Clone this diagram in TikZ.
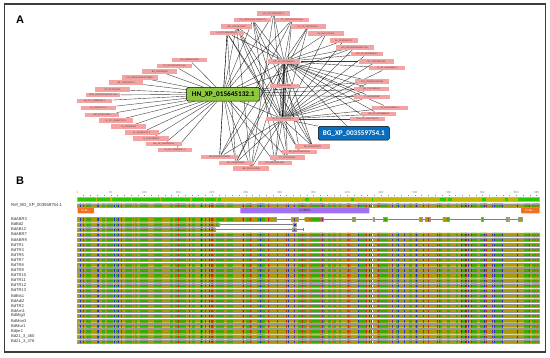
\documentclass[tikz,border=0pt]{standalone}
\usepackage{fontspec}
\setmainfont{Liberation Sans}
\newfontfamily\calibfont{Carlito}
\usetikzlibrary{backgrounds}
\definecolor{pinkc}{HTML}{F4A3A3}
\definecolor{greenn}{HTML}{8DC63F}
\definecolor{bluen}{HTML}{0A6EC0}
\definecolor{colive}{HTML}{AA9C00}
\definecolor{cgreen}{HTML}{3AAA00}
\definecolor{cred}{HTML}{C82800}
\definecolor{cblue}{HTML}{2230C0}
\definecolor{cpurp}{HTML}{6A2C8E}
\definecolor{corange}{HTML}{C87008}
\definecolor{consg}{HTML}{2FC400}
\definecolor{consy}{HTML}{C2B800}
\definecolor{annor}{HTML}{F07020}
\definecolor{annpu}{HTML}{A070F0}
\definecolor{framec}{HTML}{3C3C3C}
\newcommand\pkn[5]{\node[pk,minimum width=#4pt] (#1) at (#2,#3) {#5};}
\begin{document}
\begin{tikzpicture}[x=1pt,y=-1pt,
  pk/.style={fill=pinkc, inner sep=0pt, minimum height=4.5pt, font=\fontsize{2.2}{2.5}\selectfont, text=black!75},
  edge/.style={draw=black, line width=0.38pt, opacity=0.78},
  bignode/.style={draw=black, line width=0.5pt, rounded corners=1.5pt, minimum height=13.7pt, inner sep=0pt, font=\calibfont\bfseries\fontsize{7.2}{8}\selectfont},
  rowlab/.style={anchor=west, inner sep=0pt, font=\fontsize{4.1}{4.5}\selectfont, text=black!80},
  rul/.style={inner sep=0pt, font=\fontsize{2.8}{3}\selectfont, text=black!55},
  ann/.style={rounded corners=0.8pt, inner sep=0pt, minimum height=5.6pt, font=\fontsize{3.2}{3.5}\selectfont},
  rowb/.style={draw=black!40, line width=0.25pt},
  plab/.style={inner sep=0pt, font=\bfseries\fontsize{11}{11}\selectfont}]
\useasboundingbox (0,0) rectangle (550,357);
\begin{pgfonlayer}{background}
\fill[white] (0,0) rectangle (550,357);
\end{pgfonlayer}
\draw[framec, line width=1.6pt] (4.3,3.8) rectangle (545.5,351.8);
\node[plab] (lA) at (20,20) {A};
\node[plab] (lB) at (20,181) {B};

% ---------- panel A nodes ----------
\pkn{p1}{273.6}{13.5}{33}{HH\_XP\_020207867.1}
\pkn{p2}{252.8}{20}{37}{PG\_HORVU2Hr1G056770}
\pkn{p3}{291.9}{20}{33.7}{PT\_OS01G12078.Tpw}
\pkn{p4}{236.5}{26.5}{31}{OSI\_OS01G72900}
\pkn{p5}{308}{26.5}{35}{HJ\_XP\_020760265.1}
\pkn{p6}{227.1}{33}{34.7}{LH\_XP\_012699001.1}
\pkn{p7}{326.1}{33.5}{35.4}{SL\_RL7017135.1}
\pkn{p8}{343.8}{40.5}{28}{SL\_RL9009874.1}
\pkn{p9}{354.8}{47.5}{37.5}{BH\_ORUFI03G10880.Tpw}
\pkn{p10}{367}{54}{32.3}{NO\_XP\_015699863.1}
\pkn{p11}{376.4}{61.5}{35.8}{OP\_OS03G07130}
\pkn{p12}{387.3}{68}{35.8}{HI\_XP\_003499863.2}
\pkn{p13}{284.2}{61.5}{32.3}{NS\_XP\_003146863.1}
\pkn{p14}{284.5}{86}{28.8}{SI\_003559855}
\pkn{p15}{282.6}{119}{33.3}{LH\_XP\_003649632.1}
\pkn{p16}{372.2}{81.5}{34.4}{NO\_JO000000435258}
\pkn{p17}{371.5}{89}{34.4}{HH\_TR12345611}
\pkn{p18}{372.2}{97}{35.8}{TI\_BIO0000002}
\pkn{p19}{389.7}{108}{35.8}{HL\_SVU3H0051.1}
\pkn{p20}{378.9}{114}{35}{HM\_XP\_015898861.1}
\pkn{p21}{367.6}{119}{35}{OSI\_XP\_015627967.1}
\pkn{p22}{189.4}{60}{35}{BH\_XMRG020000}
\pkn{p23}{174.5}{66}{35.4}{PT\_OT01G21005.Tpw}
\pkn{p24}{159.8}{71.5}{34.8}{BG\_SN1809000}
\pkn{p25}{139.6}{77.5}{35.8}{PG\_HORVU2Hr1G075890}
\pkn{p26}{126.1}{82.5}{34}{SB\_TN0000001.1}
\pkn{p27}{112.4}{89.5}{34.7}{HP\_OT0210000}
\pkn{p28}{103}{95}{34.7}{OHH\_ORUFI07G08110.Tpw}
\pkn{p29}{94.5}{101}{35.5}{HD\_XP\_008988992.1}
\pkn{p30}{98.6}{108}{34.4}{HL\_SAD41179.1}
\pkn{p31}{102.3}{115}{34}{HM\_SDOI01794.1}
\pkn{p32}{115.9}{120.5}{34}{HI\_XP\_001992712.1}
\pkn{p33}{128.6}{126.5}{34.7}{OI\_JN0351805}
\pkn{p34}{141.5}{132.5}{34}{SL\_RL8800671.1}
\pkn{p35}{151.4}{138.5}{36}{IL\_RL5038828.1}
\pkn{p36}{164}{144}{36}{BG\_XP\_020803811.1}
\pkn{p37}{174.9}{150}{34.7}{LH\_HP\_000863007.2}
\pkn{p38}{219.6}{157}{36.4}{NB\_BH003XP002811}
\pkn{p39}{312.6}{146.5}{34.4}{BH\_BH00028700}
\pkn{p40}{299.6}{152}{35}{BH\_BG01000003000}
\pkn{p41}{287.3}{157.5}{35}{PT\_OT01G0103}
\pkn{p42}{235.7}{163}{33.7}{NB\_OS05G29890}
\pkn{p43}{275}{163}{33.7}{BH\_001100019000}
\pkn{p44}{251}{168.5}{35.4}{NB\_OS05S10000}
\node[bignode, fill=greenn, minimum width=73.3pt] (g) at (223.3,94.2) {HN\_XP\_015645132.1};
\node[bignode, fill=bluen, text=white, minimum width=71pt] (b) at (353.8,133.2) {BG\_XP\_003559754.1};

% ---------- panel A edges ----------
\begin{pgfonlayer}{background}
\foreach \t in {p22,p23,p24,p25,p26,p27,p28,p29,p30,p31,p32,p33,p34,p35,p36,p37,p38,p42,p44,p43,p41,p1,p2,p4,p6,p3,p13,p14,p15,p9,p16,p17,p18}
  \draw[edge] (g) -- (\t);
\foreach \t in {p1,p2,p3,p4,p5,p6,p7,p8,p9,p10,p11,p12,p16,p17,p18,p19,p20,p21,p38,p39,p40,p41,p42,p43,p44,b}
  \draw[edge] (p13) -- (\t);
\foreach \t in {p1,p2,p3,p4,p5,p6,p7,p8,p9,p10,p11,p12,p14,p16,p17,p18,p19,p20,p21,p38,p39,p40,p41,p42,p43,p44,b}
  \draw[edge] (p15) -- (\t);
\foreach \s/\t in {p6/p38,p6/p42,p4/p44,p4/p41,p2/p43,p2/p39,p3/p38,p5/p42,p1/p44,p6/p40,p4/p39}
  \draw[edge] (\s) -- (\t);
\draw[edge, line width=1.2pt] (p13) -- (p15);
\end{pgfonlayer}

% ---------- panel B ----------
\node[rul] (r1) at (77.5,192.3) {1};
\foreach \v in {50,100,...,650}
  \node[rul] (r\v) at ({77.5+(\v-1)*0.676},192.3) {\v};
\node[rul] (rend) at (536.7,192.3) {685};
\foreach \v in {10,20,...,680}
  \draw[black!45, line width=0.2pt] ({77.5+(\v-1)*0.676},194.6) -- ++(0,1.4);
% consensus bar
\fill[consy] (77.5,196.7) rectangle (539.5,201);
\fill[consg] (77.5,196.7) rectangle (215.7,201);
\fill[consg] (518,196.7) rectangle (539.5,201);
\foreach \a/\c in {218/221,305/309,320/322,351/354,372/373,440/446,448/452,482/486,505/508}
  \fill[consg] (\a,196.7) rectangle (\c,201);
\foreach \a/\c in {96/97,110/111.5,131/132,160/161,190/191.5,204/205}
  \fill[consy] (\a,196.7) rectangle (\c,201);
\draw[black!30, line width=0.2pt] (77.5,196.7) rectangle (539.5,201);
% ref label
\node[rowlab, font=\fontsize{4.3}{4.5}\selectfont] (reflab) at (11,205.4) {Ref\_BG\_XP\_003559754.1};
% annotations
\node[ann, fill=annor, text=white, minimum width=16.5pt] (nter) at (85.75,210.6) {N-te...};
\node[ann, fill=annpu, text=black!80, minimum width=129.1pt] (cobra) at (304.85,210.6) {COBRA};
\node[ann, fill=annor, text=white, minimum width=18.5pt] (cter) at (530.25,210.6) {C-ter...};
% row labels
\foreach \n [count=\i from 0] in {BdABR3,BdBd2,BdAB12,BdABR7,BdABR9,BdTR1,BdTR3,BdTR5,BdTR7,BdTR8,BdTR9,BdTR10,BdTR11,BdTR12,BdTR13,BdBis1,BdAdi2,BdTR2,BdArn1,BdMig3,BdMon3,BdMur1,Bdjer1,Bd21\_3\_460,Bd21\_3\_378}
  \node[rowlab] (lab\i) at (11,{219.2+5.09*\i}) {\n};
% connecting lines of partial rows
\draw[black!50, line width=0.4pt] (276,219.2) -- (518.3,219.2);
\draw[black!50, line width=0.4pt] (218.7,224.29) -- (292.7,224.29);
\draw[black!50, line width=0.4pt] (215.3,229.38) -- (302.7,229.38);
\draw[black!50, line width=0.4pt] (302.7,228) -- (302.7,230.8);
% alignment rows (clipped stripes)
\begin{scope}
\clip (77.5,203.7) rectangle (539.5,207)
  \foreach \i in {3,...,24}{ (77.5,{219.2+5.09*\i-1.65}) rectangle (539.5,{219.2+5.09*\i+1.65}) }
  (77.5,217.55) rectangle (276,220.85)
  \foreach \a/\c in {291.3/298,304.7/323.3,352/355,372.7/374.3,383/387.3,419.3/422.3,425.3/430,442.7/449.3,481/483.3,505.7/508.7,518.3/522}{ (\a,217.55) rectangle (\c,220.85) }
  (77.5,222.64) rectangle (218.7,225.94)
  (292.7,222.64) rectangle (296,225.94)
  (77.5,227.73) rectangle (215.3,231.03)
  (292,227.73) rectangle (296,231.03);
\fill[colive] (77.5,203) rectangle (539.5,346);
\pgfmathsetseed{12}
\foreach \k in {0,...,169}{
  \pgfmathrandominteger{\rr}{1}{100}
  \ifnum\rr>60
    \fill[cgreen] ({77.5+\k*2.72},203) rectangle ++(2.8,143);
  \fi
}
\foreach \k in {0,...,339}{
  \pgfmathrandominteger{\rr}{1}{100}
  \ifnum\rr<7 \fill[cred] ({77.5+\k*1.36},203) rectangle ++(0.8,143);\fi
  \ifnum\rr>6 \ifnum\rr<12 \fill[cblue] ({77.5+\k*1.36},203) rectangle ++(0.8,143);\fi\fi
  \ifnum\rr>11 \ifnum\rr<16 \fill[cpurp] ({77.5+\k*1.36},203) rectangle ++(0.8,143);\fi\fi
  \ifnum\rr>15 \ifnum\rr<21 \fill[corange] ({77.5+\k*1.36},203) rectangle ++(0.8,143);\fi\fi
}
\draw[white, line width=0.6pt] (372.7,203) -- (372.7,346);
\end{scope}
\fill[cblue] (292.7,222.64) rectangle (296,225.94);
% row borders
\draw[rowb] (77.5,203.7) rectangle (539.5,207);
\foreach \i in {3,...,24}
  \draw[rowb] (77.5,{219.2+5.09*\i-1.65}) rectangle (539.5,{219.2+5.09*\i+1.65});
\draw[rowb] (77.5,217.55) rectangle (276,220.85);
\foreach \a/\c in {291.3/298,304.7/323.3,352/355,372.7/374.3,383/387.3,419.3/422.3,425.3/430,442.7/449.3,481/483.3,505.7/508.7,518.3/522}
  \draw[rowb] (\a,217.55) rectangle (\c,220.85);
\draw[rowb] (77.5,222.64) rectangle (218.7,225.94);
\draw[rowb] (292.7,222.64) rectangle (296,225.94);
\draw[rowb] (77.5,227.73) rectangle (215.3,231.03);
\draw[rowb] (292,227.73) rectangle (296,231.03);
\end{tikzpicture}
\end{document}
